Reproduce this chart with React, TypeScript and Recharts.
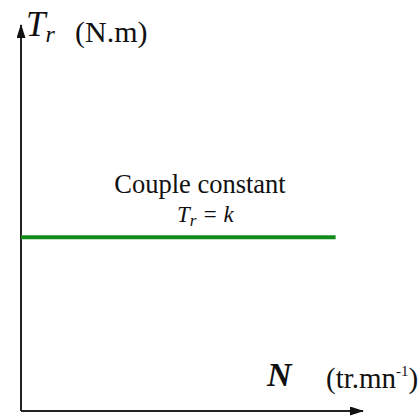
import { LineChart, Line, XAxis, YAxis, ReferenceLine } from 'recharts'

// constant load torque: T_r = k over the whole speed range shown
const speed = [0, 92]
const torque = [45, 45]
const xDomain = [0, 100]
const yDomain = [0, 100]

const data = speed.map((n, i) => ({ n, tr: torque[i] }))

const serif = '"Liberation Serif", "DejaVu Serif", serif'

export default function App() {
  return (
    <div style={{ position: 'absolute', left: 0, top: 0, background: '#fff' }}>
      <LineChart
        width={419}
        height={416}
        data={data}
        margin={{ top: 25, right: 56, bottom: 5, left: 21 }}
      >
        <defs>
          <marker
            id="arrow"
            viewBox="0 0 14 9"
            refX={13}
            refY={4.5}
            markerWidth={14}
            markerHeight={9}
            markerUnits="userSpaceOnUse"
            orient="auto"
          >
            <path d="M0,0 L14,4.5 L0,9 z" fill="#111" />
          </marker>
        </defs>
        <XAxis type="number" dataKey="n" domain={xDomain} hide />
        <YAxis type="number" domain={yDomain} hide />
        {/* axes drawn as arrows */}
        <ReferenceLine
          segment={[{ x: xDomain[0], y: yDomain[0] }, { x: xDomain[1], y: yDomain[0] }]}
          stroke="#222"
          strokeWidth={2}
          markerEnd="url(#arrow)"
          ifOverflow="visible"
        />
        <ReferenceLine
          segment={[{ x: xDomain[0], y: yDomain[0] }, { x: xDomain[0], y: yDomain[1] }]}
          stroke="#222"
          strokeWidth={2}
          markerEnd="url(#arrow)"
          ifOverflow="visible"
        />
        <Line
          dataKey="tr"
          stroke="#138a1c"
          strokeWidth={4}
          dot={false}
          isAnimationActive={false}
        />
        <text x={26} y={36} fontFamily={serif} fontStyle="italic" fontSize={35} fill="#111">
          T
          <tspan fontSize={24} dy={6}>r</tspan>
        </text>
        <text x={75} y={42} fontFamily={serif} fontSize={30} fill="#111">
          (N.m)
        </text>
        <text x={200} y={193} textAnchor="middle" fontFamily={serif} fontSize={26.5} fill="#111">
          Couple constant
        </text>
        <text x={177} y={222} fontFamily={serif} fontStyle="italic" fontSize={23} fill="#111">
          T
          <tspan fontSize={17} dy={4}>r</tspan>
          <tspan dy={-4}> = k</tspan>
        </text>
        <text x={267} y={386} fontFamily={serif} fontStyle="italic" fontWeight="bold" fontSize={34} fill="#111">
          N
        </text>
        <text x={326} y={388} fontFamily={serif} fontSize={29} fill="#111">
          (tr.mn
          <tspan fontSize={15} dy={-12}>-1</tspan>
          <tspan dy={12}>)</tspan>
        </text>
      </LineChart>
    </div>
  )
}
